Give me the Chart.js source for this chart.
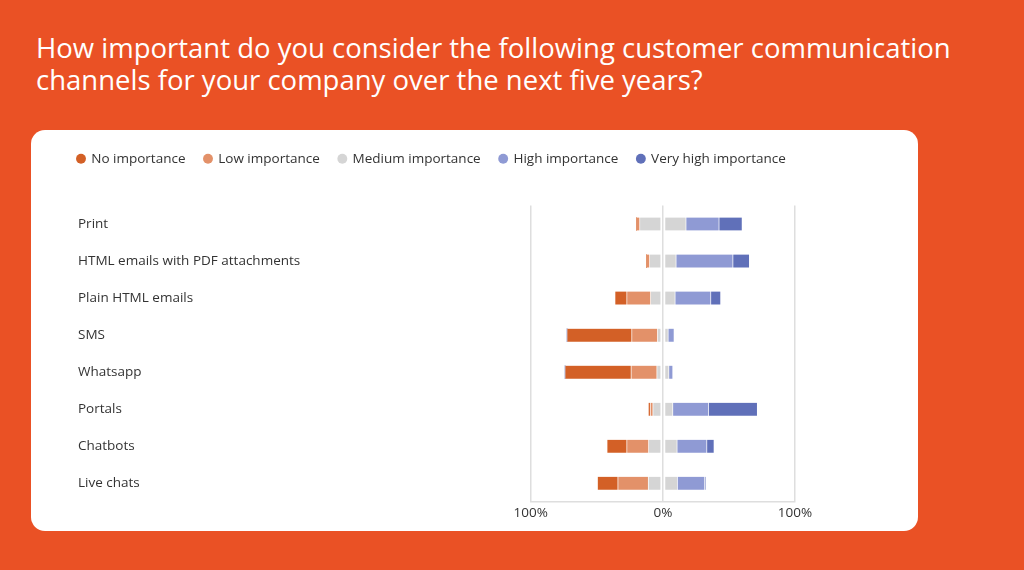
<!DOCTYPE html>
<html>
<head>
<meta charset="utf-8">
<title>Customer communication channels</title>
<script src="https://cdn.jsdelivr.net/npm/chart.js@4.4.1/dist/chart.umd.min.js"></script>
<style>
  html, body { margin: 0; padding: 0; }
  body {
    width: 1024px; height: 570px; overflow: hidden;
    background: #ea5125; position: relative;
    font-family: "Open Sans", sans-serif;
  }
  #title {
    position: absolute; left: 36px; top: 32px;
    color: #fff; font-size: 27.5px; line-height: 32px; font-weight: 500;
    white-space: nowrap;
  }
  #card {
    position: absolute; left: 31px; top: 130px; width: 887px; height: 401px;
    background: #fff; border-radius: 14px;
  }
  #wrap { position: absolute; left: 60px; top: 130px; width: 780px; height: 400px; }
</style>
</head>
<body>
<div id="title">How important do you consider the following customer communication<br>channels for your company over the next five years?</div>
<div id="card"></div>
<div id="wrap"><canvas id="chart"></canvas></div>
<script>
// channels, top to bottom
const channels = ["Print", "HTML emails with PDF attachments", "Plain HTML emails", "SMS",
                  "Whatsapp", "Portals", "Chatbots", "Live chats"];

// share of answers, in percent
const noImportance       = [0,   0,   9,    49,   50,   1.5, 15,   15.5];
const lowImportance      = [2.5, 2.5, 18,   19.5, 19.5, 2,   16.5, 23];
const mediumImportance   = [35,  20,  18.5, 8,    9,    15,  21.5, 22];
const highImportance     = [25,  43,  27,   4.5,  3,    27,  22.5, 20.5];
const veryHighImportance = [17.5,12.5,7.5,  0,    0,    37,  5.5,  1];

const colors = {
  no: "#d36026",
  low: "#e39169",
  medium: "#d5d5d5",
  high: "#8f9ad4",
  veryHigh: "#6070b9"
};

// medium is split in half around zero, one half goes left
const half = mediumImportance.map(v => v / 2);
const neg = arr => arr.map(v => -v);

function bar(label, data, color, left, right) {
  return {
    label: label,
    data: data,
    backgroundColor: color,
    borderColor: "rgba(0,0,0,0)",
    borderWidth: { left: left, right: right, top: 0, bottom: 0 },
    borderSkipped: false,
    barThickness: 13
  };
}

// stacking order: closest to zero first
const datasets = [
  bar("Medium importance", neg(half), colors.medium, 0.7, 2),
  bar("Low importance", neg(lowImportance), colors.low, 0.7, 0.7),
  bar("No importance", neg(noImportance), colors.no, 0.7, 0.7),
  bar("Medium importance", half, colors.medium, 2, 0.7),
  bar("High importance", highImportance, colors.high, 0.7, 0.7),
  bar("Very high importance", veryHighImportance, colors.veryHigh, 0.7, 0.7)
];

const legendRank = [2, 1, 0, 9, 3, 4];

const legendSpace = {
  id: "legendSpace",
  beforeInit(chart) {
    const fit = chart.legend.fit;
    chart.legend.fit = function () {
      this.maxWidth = Math.max(this.maxWidth, 760);
      fit.bind(chart.legend)();
      this.height += 30;
    };
  },
  afterLayout(chart) {
    chart.legend.left -= 19.5;
    chart.legend.right = chart.legend.left + 800;
  }
};

Chart.defaults.font.family = "'Open Sans', sans-serif";
Chart.defaults.font.size = 13.5;
Chart.defaults.color = "#333";

new Chart(document.getElementById("chart"), {
  type: "bar",
  data: { labels: channels, datasets: datasets },
  options: {
    indexAxis: "y",
    responsive: true,
    maintainAspectRatio: false,
    animation: false,
    layout: { padding: { top: 3, left: 18, right: 45, bottom: 6 } },
    scales: {
      x: {
        stacked: true,
        min: -100,
        max: 100,
        ticks: {
          stepSize: 100,
          padding: 3,
          color: "#333",
          callback: v => Math.abs(v) + "%"
        },
        grid: { color: "#dedede", lineWidth: 1.5, drawTicks: false },
        border: { display: true, color: "#dedede", width: 1.5 }
      },
      y: {
        stacked: true,
        afterFit: scale => { scale.width = 452.7; },
        ticks: { crossAlign: "far", color: "#333" },
        grid: { display: false },
        border: { display: false }
      }
    },
    plugins: {
      legend: {
        position: "top",
        align: "start",
        labels: {
          usePointStyle: true,
          pointStyle: "circle",
          boxWidth: 7,
          boxHeight: 7,
          padding: 19,
          color: "#333",
          filter: item => item.datasetIndex !== 3,
          sort: (a, b) => legendRank[a.datasetIndex] - legendRank[b.datasetIndex]
        },
        onClick: null
      },
      tooltip: {
        callbacks: {
          label: ctx => ctx.dataset.label + ": " + Math.abs(ctx.raw) + "%"
        }
      }
    }
  },
  plugins: [legendSpace]
});
</script>
</body>
</html>
